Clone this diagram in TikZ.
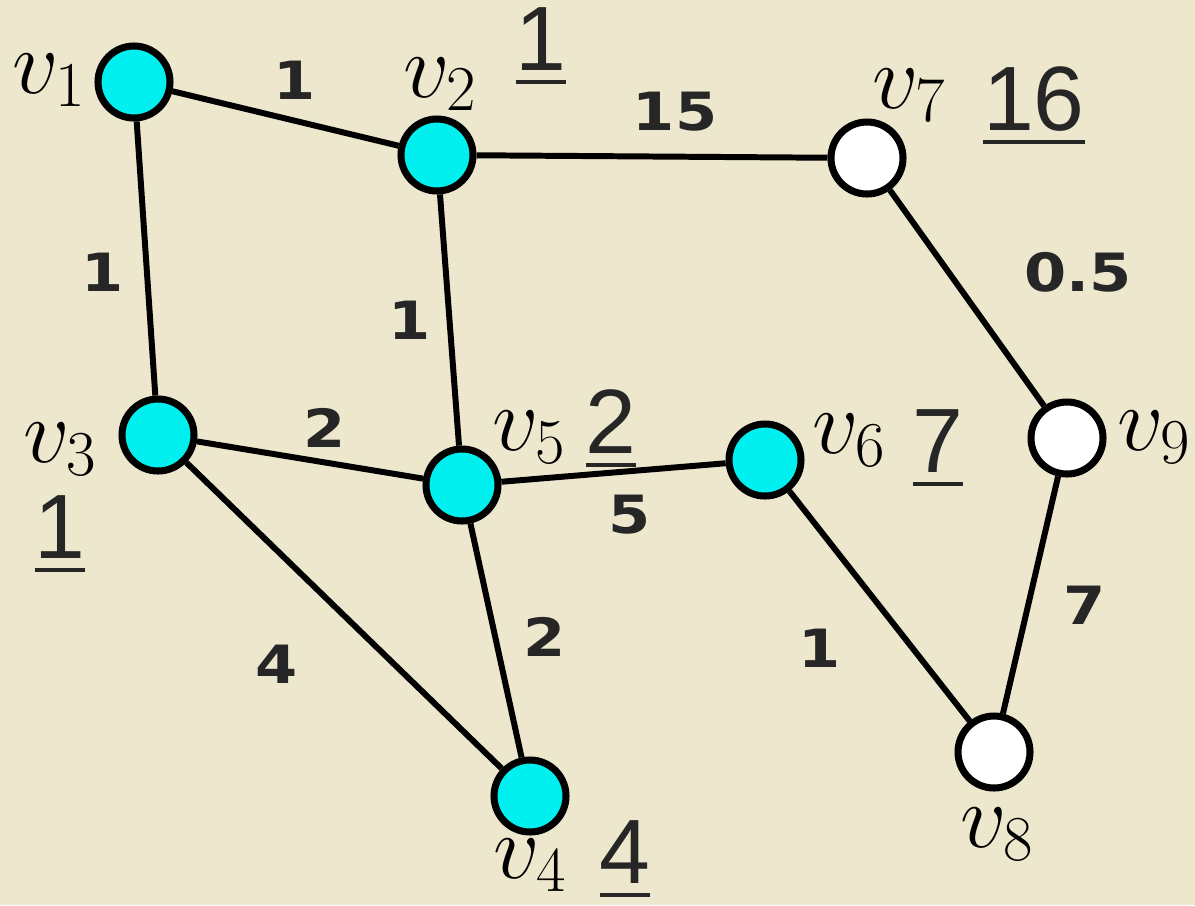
\documentclass[tikz,border=0pt]{standalone}
\usepackage{fix-cm}
\usepackage{fontspec}
\newfontfamily\weightfont{DejaVu Sans}[FakeStretch=1.15]
\newfontfamily\distfont{Liberation Sans}
\definecolor{paper}{RGB}{236,231,205}
\definecolor{vcyan}{RGB}{0,240,240}
\newcommand{\dist}[1]{\setbox0=\hbox{#1}\hbox{\rlap{\copy0}\rule[-0.14cm]{\wd0}{0.04cm}}}
\tikzset{
	vertex/.style={circle,draw,line width=2pt,minimum size=0.72cm,inner sep=0pt},
	reached/.style={vertex,fill=vcyan},
	unreached/.style={vertex,fill=white},
	link/.style={line width=1.7pt},
	wlabel/.style={font=\weightfont\bfseries\fontsize{15}{15}\selectfont,text=black!85},
	vname/.style={anchor=base west,inner sep=0pt,font=\fontsize{26}{30}\selectfont},
	distlabel/.style={anchor=base,inner sep=0pt,font=\distfont\fontsize{26}{30}\selectfont,text=black!85}
}
\usetikzlibrary{positioning}

\begin{document}
\begin{tikzpicture}

        % ==================================================
        % 0. PAPER
        % ==================================================
        \useasboundingbox (0,0) rectangle (11.95,9.05);
        \fill[paper] (0,0) rectangle (11.95,9.05);

        % ==================================================
        % 1. VERTICES
        % ==================================================
        \node[reached]   (v1) at (1.34, 8.23) {};
        \node[reached]   (v2) at (4.37, 7.50) {};
        \node[unreached] (v7) at (8.67, 7.47) {};
        \node[reached]   (v3) at (1.58, 4.70) {};
        \node[reached]   (v5) at (4.62, 4.20) {};
        \node[reached]   (v6) at (7.65, 4.45) {};
        \node[unreached] (v9) at (10.67, 4.67) {};
        \node[reached]   (v4) at (5.30, 1.09) {};
        \node[unreached] (v8) at (9.94, 1.53) {};

        % ==================================================
        % 2. EDGES
        % ==================================================
        \draw[link] (v1) -- (v2);
        \draw[link] (v2) -- (v7);
        \draw[link] (v1) -- (v3);
        \draw[link] (v2) -- (v5);
        \draw[link] (v3) -- (v5);
        \draw[link] (v5) -- (v6);
        \draw[link] (v3) -- (v4);
        \draw[link] (v5) -- (v4);
        \draw[link] (v6) -- (v8);
        \draw[link] (v7) -- (v9);
        \draw[link] (v9) -- (v8);

        % Edge weights
        \node[wlabel] (w12) at (2.95, 8.25) {1};
        \node[wlabel] (w27) at (6.75, 7.93) {15};
        \node[wlabel] (w13) at (1.03, 6.33) {1};
        \node[wlabel] (w25) at (4.10, 5.85) {1};
        \node[wlabel] (w35) at (3.25, 4.77) {2};
        \node[wlabel] (w56) at (6.30, 3.90) {5};
        \node[wlabel] (w34) at (2.77, 2.41) {4};
        \node[wlabel] (w54) at (5.45, 2.68) {2};
        \node[wlabel] (w68) at (8.20, 2.57) {1};
        \node[wlabel] (w79) at (10.78, 6.33) {0.5};
        \node[wlabel] (w98) at (10.85, 3.00) {7};

        % ==================================================
        % 3. VERTEX NAMES AND DISTANCES
        % ==================================================
        \node[vname] (n1) at (0.12, 8.12) {$v_1$};
        \node[vname] (n2) at (4.03, 8.08) {$v_2$};
        \node[vname] (n7) at (8.72, 7.97) {$v_7$};
        \node[vname] (n3) at (0.23, 4.43) {$v_3$};
        \node[vname] (n5) at (4.92, 4.55) {$v_5$};
        \node[vname] (n6) at (8.12, 4.52) {$v_6$};
        \node[vname] (n9) at (11.17, 4.55) {$v_9$};
        \node[vname] (n4) at (4.93, 0.27) {$v_4$};
        \node[vname] (n8) at (9.60, 0.58) {$v_8$};

        \node[distlabel] (d2) at (5.41, 8.35) {\dist{1}};
        \node[distlabel] (d7) at (10.34, 7.75) {\dist{16}};
        \node[distlabel] (d5) at (6.11, 4.52) {\dist{2}};
        \node[distlabel] (d6) at (9.38, 4.33) {\dist{7}};
        \node[distlabel] (d3) at (0.60, 3.47) {\dist{1}};
        \node[distlabel] (d4) at (6.25, 0.22) {\dist{4}};

\end{tikzpicture}
\end{document}
